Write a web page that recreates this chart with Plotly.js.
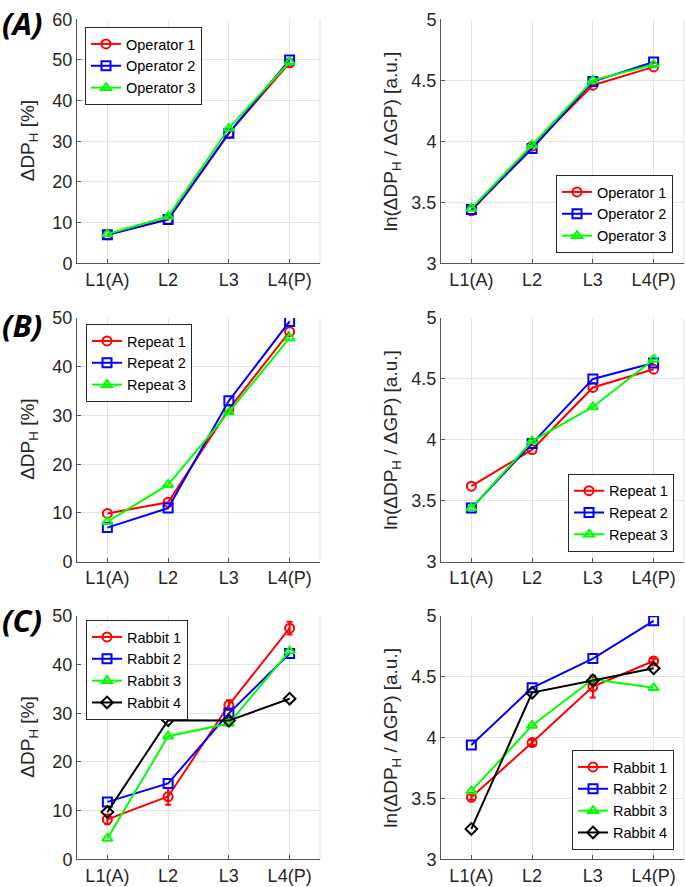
<!DOCTYPE html>
<html>
<head>
<meta charset="utf-8">
<script src="https://cdn.plot.ly/plotly-3.0.1.min.js"></script>
<style>html,body{margin:0;padding:0;background:#fff;}#chart{width:685px;height:887px;}</style>
</head>
<body>
<div id="chart"></div>
<script>
// ---- data ----
const levels = ['L1(A)', 'L2', 'L3', 'L4(P)'];

const opNames = ['Operator 1', 'Operator 2', 'Operator 3'];
const opDP = [
  [7.0, 10.8, 32.0, 49.3],
  [7.0, 10.8, 32.0, 50.0],
  [7.2, 11.5, 33.2, 49.5]
];
const opLn = [
  [3.43, 3.96, 4.46, 4.61],
  [3.44, 3.94, 4.49, 4.65],
  [3.45, 3.97, 4.50, 4.63]
];

const repNames = ['Repeat 1', 'Repeat 2', 'Repeat 3'];
const repDP = [
  [9.9, 12.2, 31.3, 47.2],
  [7.0, 11.0, 33.0, 49.3],
  [8.2, 15.8, 30.7, 45.9]
];
const repLn = [
  [3.62, 3.92, 4.43, 4.58],
  [3.44, 3.97, 4.50, 4.63],
  [3.44, 3.99, 4.27, 4.66]
];

const rabNames = ['Rabbit 1', 'Rabbit 2', 'Rabbit 3', 'Rabbit 4'];
const rabDP = [
  [8.2, 12.9, 31.7, 47.5],
  [11.8, 15.6, 30.0, 42.3],
  [4.3, 25.3, 27.9, 42.8],
  [9.7, 28.6, 28.5, 33.0]
];
const rabDPerr = [1.0, 1.7, 1.0, 1.3];
const rabLn = [
  [3.51, 3.96, 4.42, 4.63],
  [3.94, 4.41, 4.65, 4.96],
  [3.56, 4.10, 4.48, 4.41],
  [3.25, 4.37, 4.47, 4.57]
];
const rabLnErr = [0.02, 0.02, 0.09, 0.02];

// ---- styles ----
const colors = ['#ff0000', '#0000ff', '#00ff00', '#000000'];
const symbols = ['circle-open', 'square-open', 'triangle-up-open', 'diamond-open'];
const FONT = '"Liberation Sans", Arial, Helvetica, sans-serif';

const traces = [];
function addSeries(names, values, xa, ya, legendId, errArr) {
  names.forEach((nm, i) => {
    const t = {
      type: 'scatter', mode: 'lines+markers',
      x: levels, y: values[i], name: nm,
      xaxis: xa, yaxis: ya, legend: legendId,
      line: {color: colors[i], width: 2},
      marker: {symbol: symbols[i], size: 9, color: colors[i], line: {color: colors[i], width: 2}}
    };
    if (errArr && i === 0) {
      t.error_y = {type: 'data', array: errArr, visible: true, color: colors[0], thickness: 2, width: 3};
    }
    traces.push(t);
  });
}
addSeries(opNames, opDP, 'x', 'y', 'legend');
addSeries(opNames, opLn, 'x2', 'y2', 'legend2');
addSeries(repNames, repDP, 'x3', 'y3', 'legend3');
addSeries(repNames, repLn, 'x4', 'y4', 'legend4');
addSeries(rabNames, rabDP, 'x5', 'y5', 'legend5', rabDPerr);
addSeries(rabNames, rabLn, 'x6', 'y6', 'legend6', rabLnErr);

const W = 685, H = 887;
const colX = [[77, 320], [441, 684]];
const rowY = [[19.3, 263.3], [318, 561.7], [616, 859.3]];
const yRanges = [[0, 60], [3, 5], [0, 50], [3, 5], [0, 50], [3, 5]];
const yDtick = [10, 0.5, 10, 0.5, 10, 0.5];

const layout = {
  width: W, height: H,
  margin: {l: 0, r: 0, t: 0, b: 0},
  paper_bgcolor: '#fff', plot_bgcolor: '#fff',
  font: {family: FONT, size: 18, color: '#262626'},
  showlegend: true,
  annotations: [], shapes: []
};

for (let k = 0; k < 6; k++) {
  const r = Math.floor(k / 2), c = k % 2;
  const sfx = k === 0 ? '' : String(k + 1);
  const xd = [colX[c][0] / W, colX[c][1] / W];
  const yd = [1 - rowY[r][1] / H, 1 - rowY[r][0] / H];
  layout['xaxis' + sfx] = {
    domain: xd, anchor: 'y' + sfx, type: 'category',
    categoryorder: 'array', categoryarray: levels,
    range: [-0.5, 3.5], showgrid: true, gridcolor: '#e3e3e3', gridwidth: 1,
    showline: true, linecolor: '#555', linewidth: 1,
    ticks: 'inside', ticklen: 4, tickcolor: '#555',
    tickfont: {family: FONT, size: 18, color: '#262626'},
    zeroline: false, fixedrange: true
  };
  layout['yaxis' + sfx] = {
    domain: yd, anchor: 'x' + sfx,
    range: yRanges[k], dtick: yDtick[k], tick0: yRanges[k][0],
    showgrid: true, gridcolor: '#e3e3e3', gridwidth: 1,
    showline: true, linecolor: '#555', linewidth: 1,
    ticks: 'inside', ticklen: 4, tickcolor: '#555',
    tickfont: {family: FONT, size: 18, color: '#262626'},
    zeroline: false, fixedrange: true
  };
  // right border grid line
  layout.shapes.push({type: 'line', xref: 'x' + sfx + ' domain', yref: 'y' + sfx + ' domain',
    x0: 1, x1: 1, y0: 0, y1: 1, line: {color: '#e3e3e3', width: 1}, layer: 'below'});
  // y titles
  const ttl = c === 0 ? '\u0394DP<sub>H</sub> [%]' : 'ln(\u0394DP<sub>H</sub> / \u0394GP) [a.u.]';
  const tx = c === 0 ? 29 : 392;
  layout.annotations.push({
    text: ttl, xref: 'paper', yref: 'paper', x: tx / W,
    y: 1 - ((rowY[r][0] + rowY[r][1]) / 2) / H,
    xanchor: 'center', yanchor: 'middle', textangle: -90, showarrow: false,
    font: {family: FONT, size: 19, color: '#262626'}
  });
}

// panel labels
const panelLabels = ['(A)', '(B)', '(C)'];
const panelTop = [0, 302, 597];
panelLabels.forEach((p, i) => {
  layout.annotations.push({
    text: '<b><i>' + p + '</i></b>', xref: 'paper', yref: 'paper',
    x: 0, y: 1 - panelTop[i] / H, xanchor: 'left', yanchor: 'top', showarrow: false,
    font: {family: '"Open Sans", sans-serif', size: 31, color: '#000'}
  });
});

// legends
const legBase = {bgcolor: '#fff', bordercolor: '#262626', borderwidth: 1,
  font: {family: FONT, size: 14.5, color: '#000'}, itemwidth: 30, tracegroupgap: 0,
  xref: 'paper', yref: 'paper'};
const legPos = [
  {x: 85 / W, y: 1 - 27 / H, xanchor: 'left', yanchor: 'top'},
  {x: 673 / W, y: 1 - 253 / H, xanchor: 'right', yanchor: 'bottom'},
  {x: 86 / W, y: 1 - 324 / H, xanchor: 'left', yanchor: 'top'},
  {x: 674 / W, y: 1 - 551.7 / H, xanchor: 'right', yanchor: 'bottom'},
  {x: 86 / W, y: 1 - 620 / H, xanchor: 'left', yanchor: 'top'},
  {x: 674 / W, y: 1 - 850 / H, xanchor: 'right', yanchor: 'bottom'}
];
legPos.forEach((p, k) => {
  layout[k === 0 ? 'legend' : 'legend' + (k + 1)] = Object.assign({}, legBase, p);
});

Plotly.newPlot('chart', traces, layout, {staticPlot: true, displayModeBar: false});
</script>
</body>
</html>
